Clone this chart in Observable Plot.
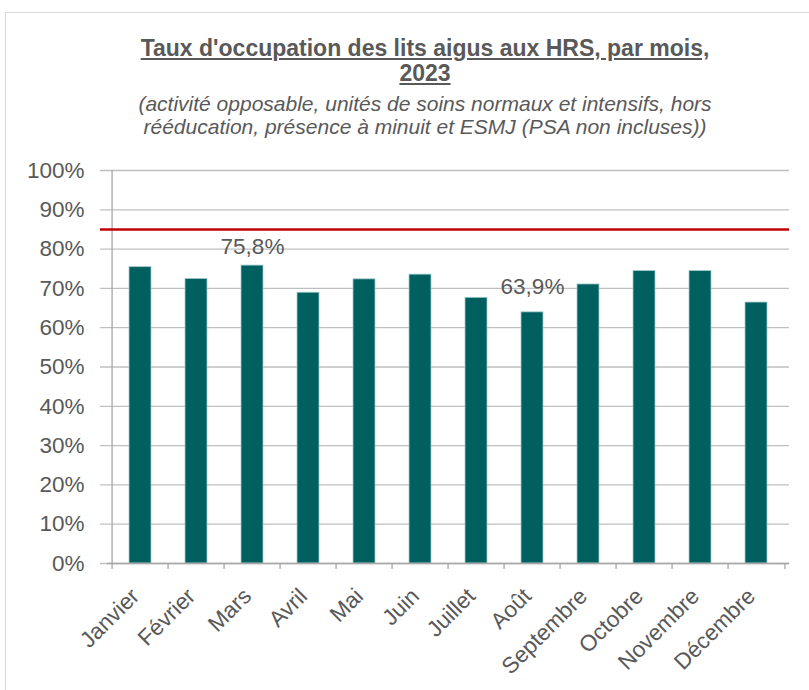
<!DOCTYPE html>
<html>
<head>
<meta charset="utf-8">
<script src="https://cdn.jsdelivr.net/npm/d3@7"></script>
<script src="https://cdn.jsdelivr.net/npm/@observablehq/plot@0.6"></script>
<style>
  body { margin: 0; background: #fff; font-family: "Liberation Sans", Arial, sans-serif; }
  #wrap { position: relative; width: 809px; height: 690px; overflow: hidden; }
  #frame { position: absolute; left: 5px; top: 12px; width: 900px; height: 900px; border-top: 1px solid #d9d9d9; border-left: 1px solid #d9d9d9; }
  #title { position: absolute; left: 0; top: 36px; width: 850px; text-align: center; color: #595959; font-weight: bold; font-size: 23px; line-height: 25px; text-decoration: underline; }
  #subtitle { position: absolute; left: 0; top: 92px; width: 850px; text-align: center; color: #595959; font-style: italic; font-size: 21px; line-height: 23px; }
  #chart { position: absolute; left: 0; top: 150px; }
</style>
</head>
<body>
<div id="wrap">
  <div id="frame"></div>
  <div id="title">Taux d'occupation des lits aigus aux HRS, par mois,<br>2023</div>
  <div id="subtitle">(activité opposable, unités de soins normaux et intensifs, hors<br>rééducation, présence à minuit et ESMJ (PSA non incluses))</div>
  <div id="chart"></div>
</div>
<script>
const months = ["Janvier", "Février", "Mars", "Avril", "Mai", "Juin", "Juillet", "Août", "Septembre", "Octobre", "Novembre", "Décembre"];
const rates = [75.4, 72.4, 75.8, 68.9, 72.3, 73.5, 67.6, 63.9, 71.0, 74.4, 74.4, 66.4];
const target = [85];
const yTicks = [0, 10, 20, 30, 40, 50, 60, 70, 80, 90, 100];

const data = months.map((m, i) => ({month: m, rate: rates[i]}));
const maxD = data.filter(d => d.rate === d3.max(rates));
const minD = data.filter(d => d.rate === d3.min(rates));
const fmt = d => d.rate.toFixed(1).replace(".", ",") + "%";

const W = 809, H = 540, mL = 107, mR = 20, mT = 20, mB = 127;
const step = (W - mL - mR) / months.length;
const grey = "#595959";
const axisGrey = "#a6a6a6";

const chart = Plot.plot({
  width: W, height: H,
  marginLeft: mL, marginRight: mR, marginTop: mT, marginBottom: mB,
  style: {fontFamily: "'Liberation Sans', Arial, sans-serif", color: grey, background: "transparent"},
  x: {domain: months, paddingInner: 0.6, paddingOuter: 0.3, label: null},
  y: {domain: [0, 100], label: null},
  marks: [
    Plot.gridY(yTicks, {stroke: "#bfbfbf", strokeOpacity: 1, strokeWidth: 1.3, insetLeft: -7}),
    Plot.axisY({ticks: yTicks, tickFormat: d => d + "%", tickSize: 0, tickPadding: 23, fontSize: 22.5, fill: grey, label: null}),
    Plot.barY(data, {x: "month", y: "rate", fill: "#005f5f", stroke: "#9fcaca", strokeWidth: 0.8}),
    Plot.ruleX(months.slice(0, 1), {x: d => d, dx: -step / 2, y1: 0, y2: 100, stroke: axisGrey, strokeWidth: 1.3}),
    Plot.ruleY([0], {stroke: axisGrey, strokeWidth: 1.3}),
    Plot.ruleX(months, {x: d => d, dx: -step / 2, y1: 0, y2: 0, insetBottom: -6, stroke: axisGrey, strokeWidth: 1.3}),
    Plot.ruleX(months.slice(-1), {x: d => d, dx: step / 2, y1: 0, y2: 0, insetBottom: -6, stroke: axisGrey, strokeWidth: 1.3}),
    Plot.ruleY(target, {stroke: "#c00000", strokeWidth: 2.6, insetLeft: -7}),
    Plot.text(maxD, {x: "month", y: "rate", text: fmt, dy: -19, fontSize: 22.5, fill: grey}),
    Plot.text(minD, {x: "month", y: "rate", text: fmt, dy: -26, fontSize: 22.5, fill: grey}),
    Plot.axisX({tickSize: 0, tickRotate: -45, tickPadding: 29, dx: -5, fontSize: 22.5, fill: grey, label: null})
  ]
});
document.getElementById("chart").appendChild(chart);
</script>
</body>
</html>
